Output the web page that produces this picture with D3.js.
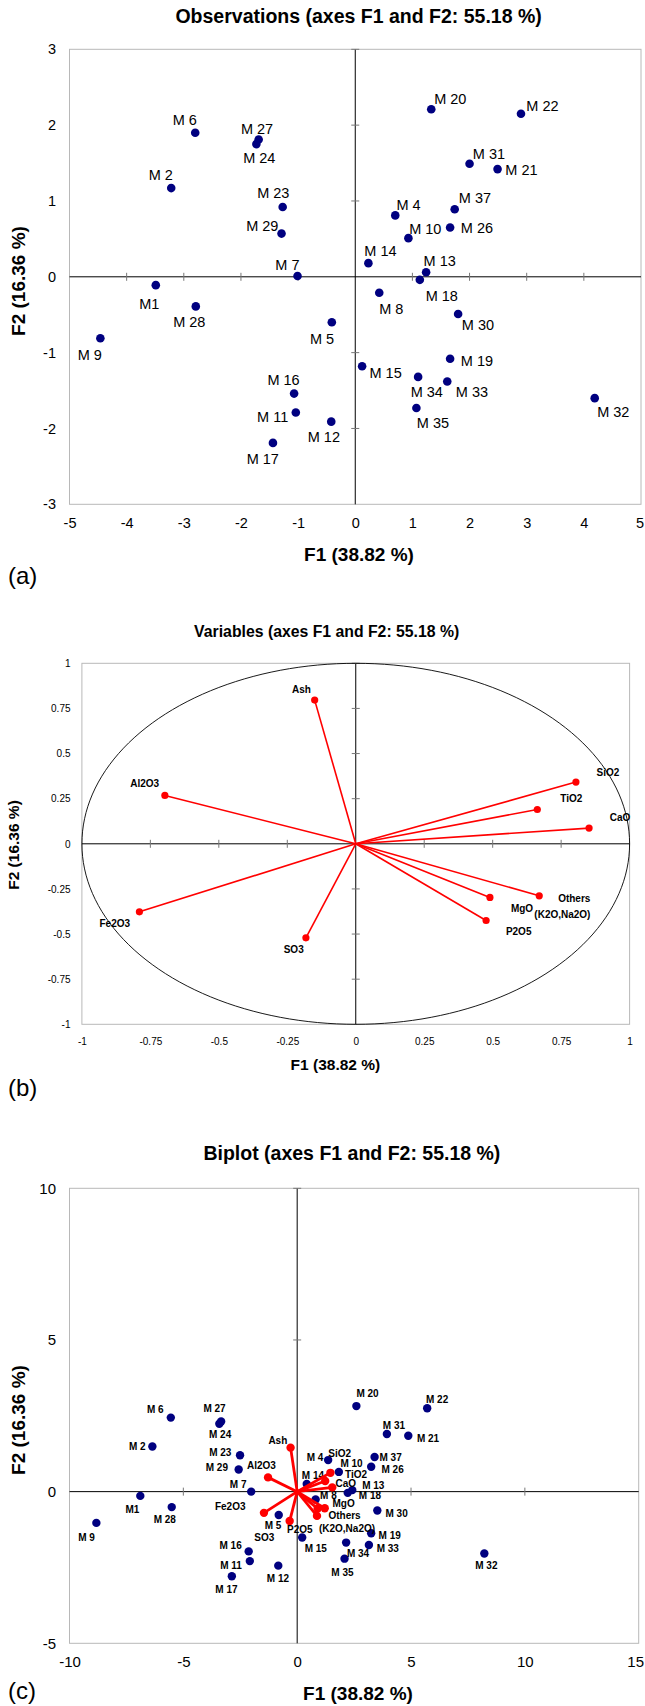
<!DOCTYPE html>
<html><head><meta charset="utf-8">
<script src="https://cdn.jsdelivr.net/npm/d3@7"></script>
<style>
body{margin:0;background:#fff}
svg{display:block}
text{font-family:"Liberation Sans",Arial,Helvetica,sans-serif;fill:#000}
</style>
</head><body>
<svg id="fig" width="645" height="1706"></svg>
<script>
// ---------------- DATA ----------------
const obsNames = ["M1","M 2","M 4","M 5","M 6","M 7","M 8","M 9","M 10","M 11","M 12","M 13","M 14","M 15","M 16","M 17","M 18","M 19","M 20","M 21","M 22","M 23","M 24","M 26","M 27","M 28","M 29","M 30","M 31","M 32","M 33","M 34","M 35","M 37"];
// (a) observations
const obsF1 = [-3.49,-3.22,0.70,-0.41,-2.80,-1.01,0.42,-4.46,0.93,-1.04,-0.42,1.24,0.23,0.12,-1.07,-1.44,1.13,1.66,1.33,2.49,2.90,-1.27,-1.73,1.66,-1.69,-2.79,-1.29,1.80,2.00,4.19,1.61,1.10,1.07,1.74];
const obsF2 = [-0.11,1.17,0.81,-0.60,1.90,0.01,-0.21,-0.81,0.51,-1.79,-1.91,0.06,0.18,-1.18,-1.54,-2.19,-0.04,-1.08,2.21,1.42,2.15,0.92,1.75,0.65,1.81,-0.39,0.57,-0.49,1.49,-1.60,-1.38,-1.32,-1.73,0.89];
// (b) variables
const varNames = ["Ash","Al2O3","SiO2","TiO2","CaO","Others|(K2O,Na2O)","MgO","P2O5","SO3","Fe2O3"];
const varF1 = [-0.150,-0.697,0.804,0.663,0.852,0.670,0.490,0.476,-0.182,-0.790];
const varF2 = [0.796,0.268,0.342,0.190,0.087,-0.288,-0.297,-0.425,-0.521,-0.377];
// (c) biplot
const biObsF1 = [-6.89,-6.36,1.36,-0.81,-5.55,-2.02,0.81,-8.82,1.83,-2.08,-0.83,2.42,0.42,0.22,-2.13,-2.87,2.22,3.25,2.60,4.88,5.71,-2.51,-3.42,3.25,-3.34,-5.51,-2.57,3.52,3.94,8.22,3.15,2.15,2.08,3.40];
const biObsF2 = [-0.14,1.49,1.04,-0.77,2.44,0.00,-0.26,-1.03,0.65,-2.29,-2.44,0.05,0.25,-1.51,-1.97,-2.79,-0.04,-1.37,2.82,1.84,2.75,1.20,2.24,0.82,2.31,-0.51,0.73,-0.62,1.90,-2.04,-1.76,-1.68,-2.21,1.14];
const biVarF1 = [-0.29,-1.28,1.46,1.23,1.54,1.21,0.90,0.87,-0.33,-1.46];
const biVarF2 = [1.45,0.47,0.62,0.35,0.14,-0.55,-0.56,-0.80,-0.97,-0.70];
// ticks
const ticksAx = [-5,-4,-3,-2,-1,0,1,2,3,4,5];
const ticksAy = [-3,-2,-1,0,1,2,3];
const ticksB = [-1,-0.75,-0.5,-0.25,0,0.25,0.5,0.75,1];
const ticksCx = [-10,-5,0,5,10,15];
const ticksCy = [-5,0,5,10];
// texts
const titleA = "Observations (axes F1 and F2: 55.18 %)";
const titleB = "Variables (axes F1 and F2: 55.18 %)";
const titleC = "Biplot (axes F1 and F2: 55.18 %)";
const xTitle = "F1 (38.82 %)";
const yTitle = "F2 (16.36 %)";

// ------------- label placement (presentation only) -------------
const offA = {"M1":[-16.5,24],"M 2":[-22.6,-8.3],"M 4":[1.2,-5.7],"M 5":[-21.8,21.7],"M 6":[-22.6,-7.7],"M 7":[-22.2,-6.3],"M 8":[0,21.3],"M 9":[-22.6,22],"M 10":[0.8,-3.7],"M 11":[-38.7,9],"M 12":[-23.5,20.7],"M 13":[-2.5,-6],"M 14":[-4.1,-7],"M 15":[7.4,12],"M 16":[-26.7,-9],"M 17":[-26.3,21.3],"M 18":[5.8,20.7],"M 19":[10.7,7.3],"M 20":[2.9,-5.7],"M 21":[7.8,6],"M 22":[5.3,-2.3],"M 23":[-25.5,-8.7],"M 24":[-13.2,18.7],"M 26":[10.7,5.7],"M 27":[-17.7,-6],"M 28":[-22.6,21],"M 29":[-35.4,-3],"M 30":[3.7,16],"M 31":[3.3,-4.7],"M 32":[2.5,18.7],"M 33":[8.6,16],"M 34":[-7.4,19.7],"M 35":[0.4,20.3],"M 37":[4.1,-6.7]};
const offB = {"Ash":[[-22.6,-7.3]],"Al2O3":[[-34.6,-8.3]],"SiO2":[[20.6,-6]],"TiO2":[[23,-7.3]],"CaO":[[20.6,-7]],"Others|(K2O,Na2O)":[[18.9,6.3],[-4.9,22.3]],"MgO":[[21,14.7]],"P2O5":[[19.8,14.3]],"SO3":[[-22.2,15.3]],"Fe2O3":[[-39.9,15.3]]};
const offC = {"M1":[-14.8,16.7],"M 2":[-23.5,3.3],"M 4":[-21.4,0.7],"M 5":[-14,13.7],"M 6":[-23.9,-4.3],"M 7":[-21.4,-3.3],"M 8":[4.5,-0.3],"M 9":[-18.1,17.7],"M 10":[1.6,-4.7],"M 11":[-29.6,8.3],"M 12":[-11.5,16.7],"M 13":[9.9,-0.7],"M 14":[-4.9,-4.7],"M 15":[2.5,15],"M 16":[-29.2,-2.7],"M 17":[-16.5,16.3],"M 18":[11.1,6.3],"M 19":[7.4,6],"M 20":[0,-8.7],"M 21":[8.6,5.7],"M 22":[-1.2,-5],"M 23":[-30.9,0.3],"M 24":[-10.3,14],"M 26":[10.3,6],"M 27":[-17.7,-10],"M 28":[-18.1,16.3],"M 29":[-32.9,2],"M 30":[8.2,7],"M 31":[-4.1,-4.7],"M 32":[-9.1,15.7],"M 33":[7.8,7.3],"M 34":[0.8,14],"M 35":[-13.2,17],"M 37":[4.9,3.7]};
const offCv = {"Ash":[[-22.2,-3.3]],"Al2O3":[[-21,-8]],"SiO2":[[-2.1,-16.3]],"TiO2":[[19.8,-2.7]],"CaO":[[3.3,0]],"Others|(K2O,Na2O)":[[3.7,11],[-5.8,23.3]],"MgO":[[14.8,-1.3]],"P2O5":[[-30,16.7]],"SO3":[[-35.4,20]],"Fe2O3":[[-49,-3]]};

const svg = d3.select("#fig");
const NAVY = "#000080", RED = "#ff0000";
const fmt = d => String(d);

function panel(cfg){
  const g = svg.append("g");
  const x = d3.scaleLinear().domain(cfg.xd).range([cfg.L, cfg.R]);
  const y = d3.scaleLinear().domain(cfg.yd).range([cfg.B, cfg.T]);
  g.append("rect").attr("x",cfg.L).attr("y",cfg.T).attr("width",cfg.R-cfg.L).attr("height",cfg.B-cfg.T)
    .attr("fill","none").attr("stroke","#b8b8b8").attr("stroke-width",1);
  const ax = g.append("g").attr("transform",`translate(0,${cfg.B})`)
    .call(d3.axisBottom(x).tickValues(cfg.xt).tickSize(0).tickPadding(cfg.xPad).tickFormat(fmt));
  const ay = g.append("g").attr("transform",`translate(${cfg.L},0)`)
    .call(d3.axisLeft(y).tickValues(cfg.yt).tickSize(0).tickPadding(cfg.yPad).tickFormat(fmt));
  [ax,ay].forEach(a=>{a.select(".domain").remove();
    a.selectAll("text").attr("font-size",cfg.tickFs).attr("font-family","Liberation Sans, Arial, sans-serif").attr("fill","#000");});
  // keep the last x tick label inside the page
  ax.selectAll(".tick text").filter(function(){
    const b = this.getBBox(); const t = this.parentNode.transform.baseVal.consolidate();
    return t && (t.matrix.e + b.x + b.width > 644);
  }).attr("text-anchor","end").attr("x",function(){
    const t = this.parentNode.transform.baseVal.consolidate(); return 644 - t.matrix.e;});
  g.append("line").attr("x1",cfg.L).attr("x2",cfg.R).attr("y1",y(0)).attr("y2",y(0)).attr("stroke","#000").attr("stroke-width",1);
  g.append("line").attr("x1",x(0)).attr("x2",x(0)).attr("y1",cfg.T).attr("y2",cfg.B).attr("stroke","#000").attr("stroke-width",1);
  g.selectAll(".tx").data(cfg.xt.filter(v=>v!==0 && v!==cfg.xd[0] && v!==cfg.xd[1])).enter().append("line")
    .attr("x1",d=>x(d)).attr("x2",d=>x(d)).attr("y1",y(0)-4).attr("y2",y(0)+4).attr("stroke","#777");
  g.selectAll(".ty").data(cfg.yt.filter(v=>v!==0 && v!==cfg.yd[0])).enter().append("line")
    .attr("y1",d=>y(d)).attr("y2",d=>y(d)).attr("x1",x(0)-4).attr("x2",x(0)+4).attr("stroke","#777");
  svg.append("text").attr("x",cfg.titleX).attr("y",cfg.titleY).attr("text-anchor","middle")
    .attr("font-weight","bold").attr("font-size",cfg.titleFs).text(cfg.title);
  svg.append("text").attr("x",cfg.xTitleX).attr("y",cfg.xTitleY).attr("text-anchor","middle")
    .attr("font-weight","bold").attr("font-size",cfg.axFs).text(xTitle);
  svg.append("text").attr("transform",`translate(${cfg.yTitleX},${cfg.yTitleY}) rotate(-90)`).attr("text-anchor","middle")
    .attr("font-weight","bold").attr("font-size",cfg.axFs).text(yTitle);
  svg.append("text").attr("x",8).attr("y",cfg.tagY).attr("font-family","Liberation Serif, Times New Roman, serif")
    .attr("font-size",cfg.tagFs).text(cfg.tag);
  return {g,x,y};
}

function drawVars(g,x,y,f1,f2,offs,opt){
  const idx = d3.range(varNames.length);
  g.selectAll(null).data(idx).enter().append("line")
    .attr("x1",x(0)).attr("y1",y(0)).attr("x2",i=>x(f1[i])).attr("y2",i=>y(f2[i]))
    .attr("stroke",RED).attr("stroke-width",opt.lw);
  g.selectAll(null).data(idx).enter().append("circle")
    .attr("cx",i=>x(f1[i])).attr("cy",i=>y(f2[i])).attr("r",opt.r).attr("fill",RED);
  idx.forEach(i=>{
    const lines = varNames[i].split("|");
    lines.forEach((t,k)=>{
      const o = offs[varNames[i]][k];
      g.append("text").attr("x",x(f1[i])+o[0]).attr("y",y(f2[i])+o[1])
        .attr("font-size",opt.fs).attr("font-weight","bold").text(t);
    });
  });
}

function drawObs(g,x,y,f1,f2,offs,opt){
  const idx = d3.range(obsNames.length);
  g.selectAll(null).data(idx).enter().append("circle")
    .attr("cx",i=>x(f1[i])).attr("cy",i=>y(f2[i])).attr("r",opt.r).attr("fill",NAVY);
  g.selectAll(null).data(idx).enter().append("text")
    .attr("x",i=>x(f1[i])+offs[obsNames[i]][0]).attr("y",i=>y(f2[i])+offs[obsNames[i]][1])
    .attr("font-size",opt.fs).attr("font-weight",opt.bold?"bold":"normal").text(i=>obsNames[i]);
}

// ---------- (a) ----------
const A = panel({xd:[-5,5],yd:[-3,3],L:69.5,R:641,T:49.3,B:504.3,xt:ticksAx,yt:ticksAy,
  xPad:13.4,yPad:13.5,tickFs:14.5,title:titleA,titleX:358.6,titleY:23,titleFs:19.5,
  xTitleX:359,xTitleY:561,yTitleX:25,yTitleY:281,axFs:19,tag:"(a)",tagY:584,tagFs:24});
drawObs(A.g,A.x,A.y,obsF1,obsF2,offA,{r:4.3,fs:14.5,bold:false});

// ---------- (b) ----------
const Bp = panel({xd:[-1,1],yd:[-1,1],L:81.9,R:629.6,T:663.3,B:1024.3,xt:ticksB,yt:ticksB,
  xPad:13.6,yPad:11.4,tickFs:10,title:titleB,titleX:326.7,titleY:637,titleFs:15.8,
  xTitleX:335.4,xTitleY:1070,yTitleX:19,yTitleY:845,axFs:15.5,tag:"(b)",tagY:1096,tagFs:24});
const circ = d3.range(0,361,2).map(a=>[Math.cos(a*Math.PI/180),Math.sin(a*Math.PI/180)]);
Bp.g.append("path").attr("d",d3.line().x(d=>Bp.x(d[0])).y(d=>Bp.y(d[1]))(circ))
  .attr("fill","none").attr("stroke","#000").attr("stroke-width",0.9);
drawVars(Bp.g,Bp.x,Bp.y,varF1,varF2,offB,{lw:1.6,r:3.6,fs:10});

// ---------- (c) ----------
const C = panel({xd:[-10,15],yd:[-5,10],L:69.5,R:638.7,T:1188.3,B:1643.3,xt:ticksCx,yt:ticksCy,
  xPad:13,yPad:13.5,tickFs:15,title:titleC,titleX:351.9,titleY:1160,titleFs:19.5,
  xTitleX:358,xTitleY:1700,yTitleX:25,yTitleY:1420,axFs:19,tag:"(c)",tagY:1699,tagFs:24});
drawObs(C.g,C.x,C.y,biObsF1,biObsF2,offC,{r:4.2,fs:10,bold:true});
drawVars(C.g,C.x,C.y,biVarF1,biVarF2,offCv,{lw:2.8,r:4.2,fs:10});
</script>
</body></html>
